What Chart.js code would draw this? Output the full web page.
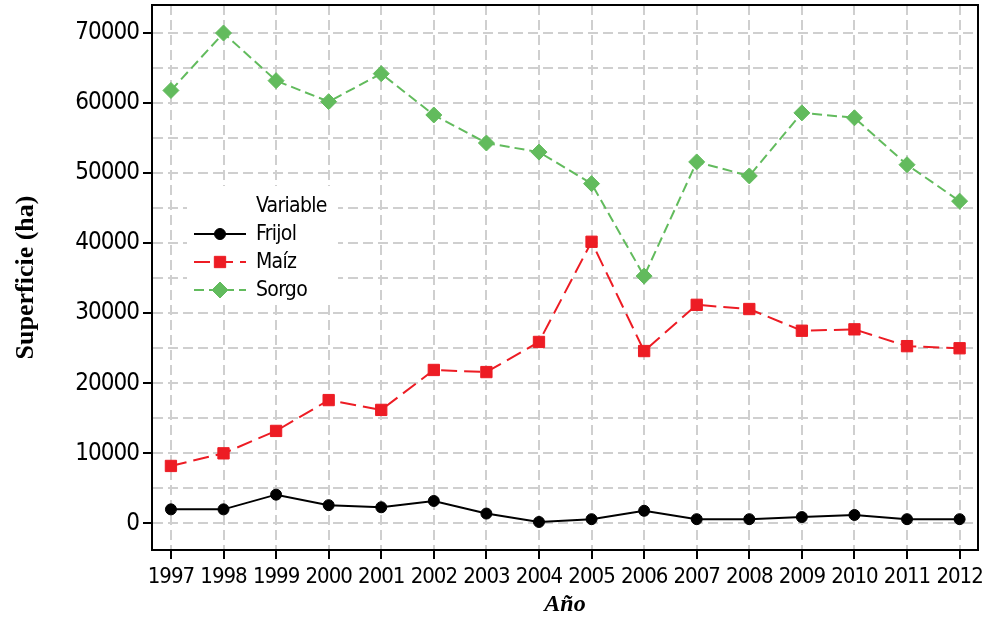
<!DOCTYPE html>
<html>
<head>
<meta charset="utf-8">
<script src="https://cdn.jsdelivr.net/npm/chart.js@4"></script>
<style>
  body { margin: 0; background: #fff; }
  #wrap { width: 982px; height: 619px; }
</style>
</head>
<body>
<div id="wrap"><canvas id="chart" width="982" height="619"></canvas></div>
<script>
const years = [1997, 1998, 1999, 2000, 2001, 2002, 2003, 2004, 2005, 2006, 2007, 2008, 2009, 2010, 2011, 2012];
const frijol = [2000, 2000, 4100, 2600, 2300, 3200, 1400, 200, 600, 1800, 600, 600, 900, 1200, 600, 600];
const maiz = [8200, 10000, 13200, 17600, 16200, 21900, 21600, 25900, 40200, 24600, 31200, 30600, 27500, 27700, 25300, 25000];
const sorgo = [61800, 70000, 63200, 60200, 64200, 58300, 54300, 53000, 48500, 35300, 51600, 49600, 58600, 57900, 51200, 46000];
const yTicks = [0, 5000, 10000, 15000, 20000, 25000, 30000, 35000, 40000, 45000, 50000, 55000, 60000, 65000, 70000];

const tickFont = "'DejaVu Sans Condensed', 'DejaVu Sans', sans-serif";
const serif = "'Liberation Serif', 'DejaVu Serif', serif";

function pts(vals) {
    return years.map((y, i) => ({ x: y, y: vals[i] }));
}

function noPad(s) {
    s.paddingTop = 0;
    s.paddingBottom = 0;
    s.paddingLeft = 0;
    s.paddingRight = 0;
}

// marco superior y derecho del area de trazado
const framePlugin = {
    id: 'frame',
    afterDatasetsDraw(chart) {
        // las etiquetas de los ejes (z = 1) se dibujan despues: letras mas juntas
        chart.ctx.letterSpacing = '-1px';
    },
    afterDraw(chart) {
        const { ctx, chartArea: a } = chart;
        ctx.letterSpacing = '0px';
        ctx.save();
        ctx.strokeStyle = '#000';
        ctx.lineWidth = 2;
        ctx.beginPath();
        ctx.moveTo(a.left, a.top);
        ctx.lineTo(a.right, a.top);
        ctx.lineTo(a.right, a.bottom);
        ctx.stroke();
        ctx.restore();
    }
};

// leyenda dentro del grafico
const legendPlugin = {
    id: 'innerLegend',
    beforeDatasetsDraw(chart) {
        const ctx = chart.ctx;
        ctx.save();
        ctx.fillStyle = '#fff';
        ctx.fillRect(187, 186, 151, 118);
        ctx.font = '21px ' + tickFont;
        ctx.letterSpacing = '-0.7px';
        ctx.fillStyle = '#000';
        ctx.textBaseline = 'middle';
        ctx.fillText('Variable', 256, 207);
        chart.data.datasets.forEach((ds, i) => {
            const y = 234 + i * 28;
            ctx.save();
            ctx.strokeStyle = ds.borderColor;
            ctx.lineWidth = ds.borderWidth;
            ctx.setLineDash(ds.borderDash || []);
            ctx.beginPath();
            ctx.moveTo(194, y);
            ctx.lineTo(246, y);
            ctx.stroke();
            ctx.restore();
            ctx.fillStyle = ds.pointBackgroundColor;
            ctx.strokeStyle = ds.pointBackgroundColor;
            Chart.helpers.drawPoint(ctx, { pointStyle: ds.pointStyle, radius: ds.pointRadius, borderWidth: 1, rotation: 0 }, 220, y);
            ctx.fillStyle = '#000';
            ctx.fillText(ds.label, 256, y + 1);
        });
        ctx.restore();
    }
};

new Chart(document.getElementById('chart'), {
    type: 'line',
    data: {
        datasets: [
            { label: 'Frijol', data: pts(frijol), borderColor: '#000', backgroundColor: '#000', pointBackgroundColor: '#000', pointBorderColor: '#000', borderWidth: 2, pointStyle: 'circle', pointRadius: 5.5, pointBorderWidth: 1, tension: 0 },
            { label: 'Maíz', data: pts(maiz), borderColor: '#ED1C24', backgroundColor: '#ED1C24', pointBackgroundColor: '#ED1C24', pointBorderColor: '#ED1C24', borderWidth: 2, borderDash: [16, 7], pointStyle: 'rect', pointRadius: 8, pointBorderWidth: 1, tension: 0 },
            { label: 'Sorgo', data: pts(sorgo), borderColor: '#62BB5D', backgroundColor: '#62BB5D', pointBackgroundColor: '#62BB5D', pointBorderColor: '#62BB5D', borderWidth: 2, borderDash: [10, 5], pointStyle: 'rectRot', pointRadius: 8, pointBorderWidth: 1, tension: 0 }
        ]
    },
    options: {
        responsive: false,
        animation: false,
        layout: { autoPadding: false, padding: { top: 5, right: 4, left: 0, bottom: 0 } },
        plugins: { legend: { display: false }, tooltip: { enabled: false } },
        scales: {
            x: {
                type: 'linear',
                min: 1996.64,
                max: 2012.35,
                afterBuildTicks: s => { s.ticks = years.map(v => ({ value: v })); },
                afterFit: s => { s.height = 69; noPad(s); },
                ticks: { z: 1, color: '#000', font: { family: tickFont, size: 22 }, padding: 5, maxRotation: 0, autoSkip: false, callback: v => String(v) },
                grid: { color: '#cfcfcf', lineWidth: 2, tickColor: '#000', tickLength: 9, tickWidth: 2 },
                border: { display: true, color: '#000', width: 2, dash: [10, 5] },
                title: { display: true, text: 'Año', color: '#000', font: { family: serif, size: 24, weight: 'bold', style: 'italic' }, padding: { top: 0, bottom: 0 } }
            },
            y: {
                min: -3800,
                max: 74000,
                afterBuildTicks: s => { s.ticks = yTicks.map(v => ({ value: v })); },
                afterFit: s => { s.width = 152; noPad(s); },
                ticks: { z: 1, color: '#000', font: { family: tickFont, size: 24 }, padding: 4, autoSkip: false, callback: v => (v % 10000 === 0 ? String(v) : '') },
                grid: { color: '#cfcfcf', lineWidth: 2, tickLength: 9, tickWidth: 2, tickColor: c => (c.tick && c.tick.value % 10000 === 0 ? '#000' : 'rgba(0,0,0,0)') },
                border: { display: true, color: '#000', width: 2, dash: [10, 5] },
                title: { display: true, text: 'Superficie (ha)', color: '#000', font: { family: serif, size: 26, weight: 'bold' }, padding: { top: 11, bottom: 0 } }
            }
        }
    },
    plugins: [legendPlugin, framePlugin]
});
</script>
</body>
</html>
